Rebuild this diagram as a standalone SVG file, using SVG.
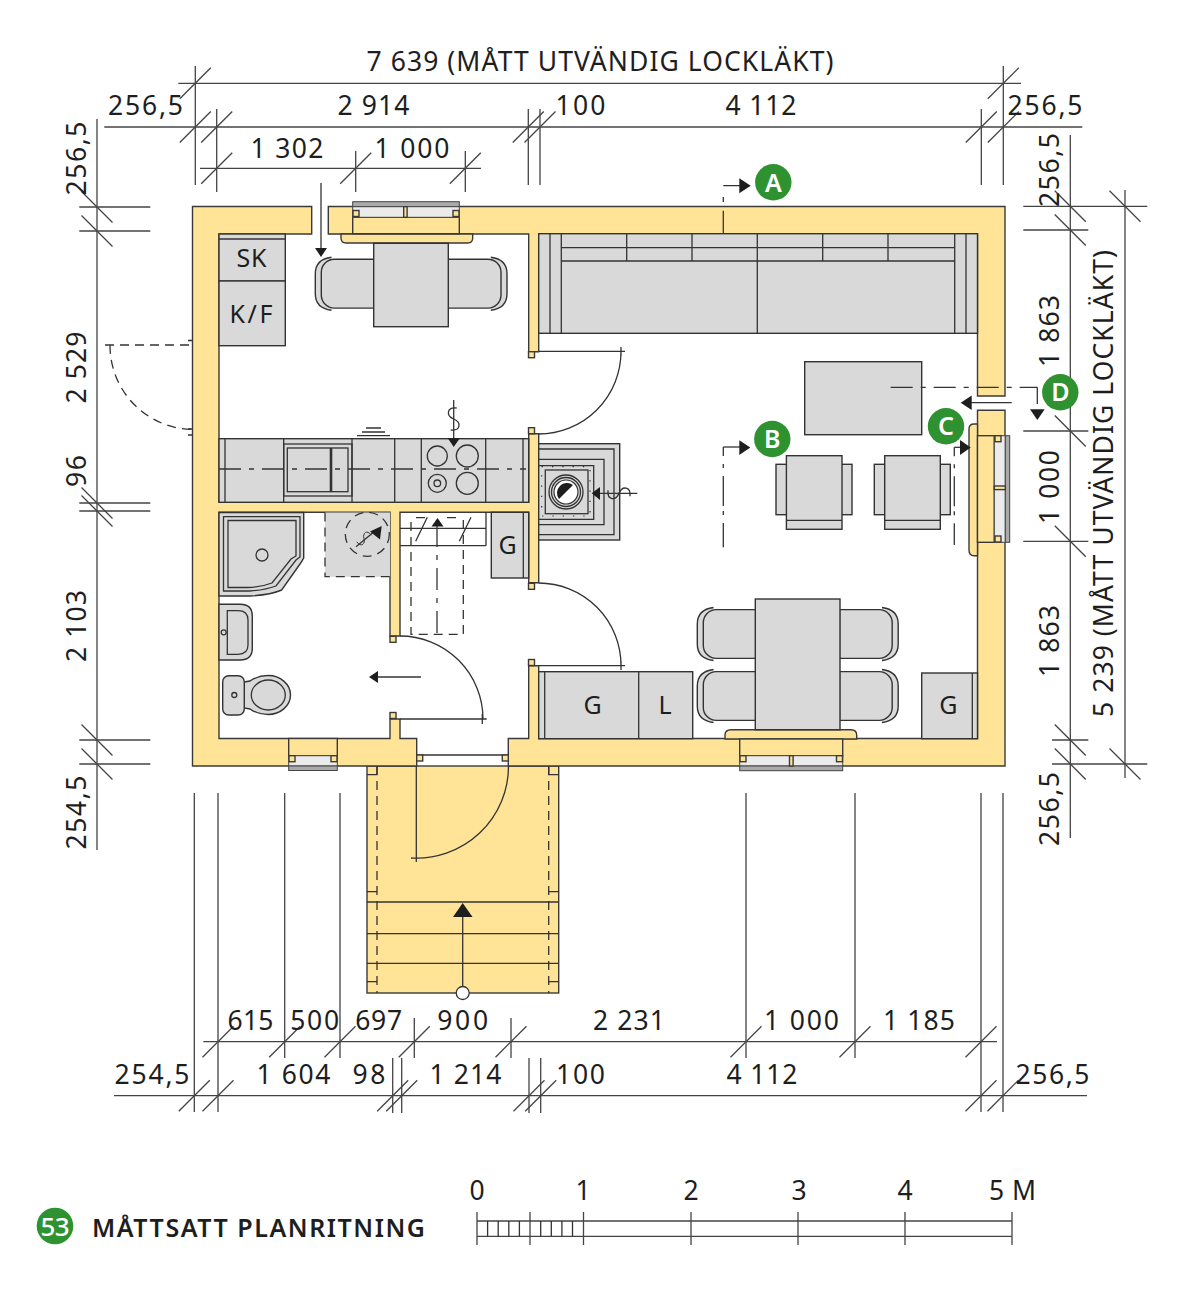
<svg xmlns="http://www.w3.org/2000/svg" xmlns:xlink="http://www.w3.org/1999/xlink" width="1200" height="1306" viewBox="0 0 1200 1306">
<style>
text{font-family:"Noto Sans","Open Sans",sans-serif;font-size:26.5px;fill:#1e1e1e;text-anchor:middle}
.w{fill:#ffe397;stroke:#3a3a3a;stroke-width:1.4;stroke-linejoin:miter}
.f{fill:#d9d9d9;stroke:#333;stroke-width:1.4}
.l{fill:none;stroke:#333;stroke-width:1.3}
.dim{fill:none;stroke:#444;stroke-width:1.3}
.dash{fill:none;stroke:#333;stroke-width:1.3;stroke-dasharray:9 6}
.dd{fill:none;stroke:#333;stroke-width:1.3;stroke-dasharray:22 8 5 8}
.sec{fill:none;stroke:#333;stroke-width:1.3;stroke-dasharray:9 8 4 8 30 5 4 8 26}
.g{fill:#ebebeb;stroke:#444;stroke-width:1}
.fr{fill:#aaa;stroke:#444;stroke-width:1}
.a{fill:#1e1e1e;stroke:none}
.c{fill:#2e9230}
.cl{fill:#fff;font-size:25px;font-weight:600}
.lab{font-size:25px}
</style>
<defs>
<path id="t" d="M-15.5 15.5L15.5-15.5" class="dim"/>
<path id="b" d="M-15.5-15.5L15.5 15.5" class="dim"/>
<path id="curl" d="M3-11C-7.5-12-7.5-3 0 0C7.5 3 7.5 12-3 11" class="l"/>
<rect id="sq" x="-3" y="-3" width="6" height="6" class="w"/>
<g id="chair">
<path class="f" d="M-42.5-26.5Q-58.7-24.5-58.7-10V10Q-58.7 24.5-42.5 26.5"/>
<path class="f" d="M0-24.4H-39.7A13 13 0 0 0-52.7-11.4V11.4A13 13 0 0 0-39.7 24.4H0Z"/>
</g>
<g id="arm">
<rect class="f" x="0" y="8.6" width="76" height="50.4"/>
<rect class="f" x="10.4" y="0" width="55.6" height="73.6"/>
<path class="l" d="M10.4 64.6H66"/>
</g>
</defs>

<g id="dimensions">
<path class="dim" d="M178.3 83.3H1021M104.3 127H1082.3M200 168.3H481M195.3 66V185M216.7 109V192M355.7 151V192M465.3 151V192M528.3 109V185M540 109V185M981.3 109V185M1003.3 66V185"/>
<path class="dim" d="M97 119V850M79.3 207H150.3M79.3 231H150.3M79.3 503H150.3M79.3 511H150.3M79.3 740H150.3M79.3 764H150.3"/>
<path class="dim" d="M1070.3 135V838M1125 190V778M1023.3 206.3H1147.3M1023.3 230H1088.3M1023.3 431H1088.3M1023.3 541.3H1088.3M1052 740H1088.3M1052 764H1147.3"/>
<path class="dim" d="M203.3 1041.7H997M114 1095.7H1087M194.3 793V1112M218 793V1112M284.7 793V1058M340 793V1058M746 793V1058M855 793V1058M981 793V1112M1003 793V1112M392.7 1058V1113M401.7 1058V1113M414.3 1018V1058M511 1018V1058M529 1058V1113M540.7 1058V1113"/>
<use href="#t" x="195.3" y="83.3"/><use href="#t" x="1003.3" y="83.3"/>
<use href="#t" x="195.3" y="127"/><use href="#t" x="216.7" y="127"/><use href="#t" x="528.3" y="127"/><use href="#t" x="540" y="127"/><use href="#t" x="981.3" y="127"/><use href="#t" x="1003.3" y="127"/>
<use href="#t" x="216.7" y="168.3"/><use href="#t" x="355.7" y="168.3"/><use href="#t" x="465.3" y="168.3"/>
<use href="#b" x="97" y="207"/><use href="#b" x="97" y="231"/><use href="#b" x="97" y="503"/><use href="#b" x="97" y="511"/><use href="#b" x="97" y="740"/><use href="#b" x="97" y="764"/>
<use href="#b" x="1070.3" y="206.3"/><use href="#b" x="1070.3" y="230"/><use href="#b" x="1070.3" y="431"/><use href="#b" x="1070.3" y="541.3"/><use href="#b" x="1070.3" y="740"/><use href="#b" x="1070.3" y="764"/><use href="#b" x="1125" y="206.3"/><use href="#b" x="1125" y="764"/>
<use href="#t" x="218" y="1041.7"/><use href="#t" x="284.7" y="1041.7"/><use href="#t" x="340" y="1041.7"/><use href="#t" x="414.3" y="1041.7"/><use href="#t" x="511" y="1041.7"/><use href="#t" x="746" y="1041.7"/><use href="#t" x="855" y="1041.7"/><use href="#t" x="981" y="1041.7"/>
<use href="#t" x="194.3" y="1095.7"/><use href="#t" x="218" y="1095.7"/><use href="#t" x="392.7" y="1095.7"/><use href="#t" x="401.7" y="1095.7"/><use href="#t" x="529" y="1095.7"/><use href="#t" x="540.7" y="1095.7"/><use href="#t" x="981" y="1095.7"/><use href="#t" x="1003" y="1095.7"/>
</g>

<g id="dimension-labels">
<text x="600" y="71" textLength="467">7 639 (MÅTT UTVÄNDIG LOCKLÄKT)</text>
<text x="145.5" y="115.2" textLength="75">256,5</text>
<text x="373.5" y="115.2" textLength="72">2 914</text>
<text x="580.5" y="115.2" textLength="50">100</text>
<text x="761" y="115.2" textLength="71">4 112</text>
<text x="1045" y="115.2" textLength="75">256,5</text>
<text x="287" y="157.5" textLength="73">1 302</text>
<text x="412" y="157.5" textLength="75">1 000</text>
<text transform="rotate(-90 85.7 158.5)" x="85.7" y="158.5" textLength="74">256,5</text>
<text transform="rotate(-90 85.7 367.5)" x="85.7" y="367.5" textLength="72">2 529</text>
<text transform="rotate(-90 85.7 471)" x="85.7" y="471" textLength="32">96</text>
<text transform="rotate(-90 85.7 626)" x="85.7" y="626" textLength="72">2 103</text>
<text transform="rotate(-90 85.7 812.5)" x="85.7" y="812.5" textLength="74">254,5</text>
<text transform="rotate(-90 1059.3 170)" x="1059.3" y="170" textLength="74">256,5</text>
<text transform="rotate(-90 1059.3 331)" x="1059.3" y="331" textLength="72">1 863</text>
<text transform="rotate(-90 1059.3 487)" x="1059.3" y="487" textLength="74">1 000</text>
<text transform="rotate(-90 1059.3 641)" x="1059.3" y="641" textLength="72">1 863</text>
<text transform="rotate(-90 1059.3 809)" x="1059.3" y="809" textLength="74">256,5</text>
<text transform="rotate(-90 1113.3 483.5)" x="1113.3" y="483.5" textLength="467">5 239 (MÅTT UTVÄNDIG LOCKLÄKT)</text>
<text x="250.5" y="1030.4" textLength="46">615</text>
<text x="314.7" y="1030.4" textLength="49">500</text>
<text x="378.7" y="1030.4" textLength="47">697</text>
<text x="462.7" y="1030.4" textLength="51">900</text>
<text x="629" y="1030.4" textLength="72">2 231</text>
<text x="801.5" y="1030.4" textLength="75">1 000</text>
<text x="919" y="1030.4" textLength="72">1 185</text>
<text x="152" y="1083.8" textLength="75">254,5</text>
<text x="293.5" y="1083.8" textLength="74">1 604</text>
<text x="369" y="1083.8" textLength="33">98</text>
<text x="465.5" y="1083.8" textLength="72">1 214</text>
<text x="580.5" y="1083.8" textLength="49">100</text>
<text x="762" y="1083.8" textLength="71">4 112</text>
<text x="1052.5" y="1083.8" textLength="74">256,5</text>
</g>

<g id="porch">
<rect class="w" x="367" y="766" width="191.7" height="227"/>
<path class="l" d="M367 902H558.7M367 933.7H558.7M367 963.3H558.7M367 774.7H377V766M558.7 774.7H548.7V766M367 891.7H377M558.7 891.7H548.7M367 981.7H377M558.7 981.7H548.7"/>
<path class="dash" d="M377 766V993M548.7 766V993"/>
<path class="l" d="M416.3 766V862M508.5 766A92 92 0 0 1 411 858"/>
<path class="l" d="M462.7 986.5V915"/>
<polygon class="a" points="462.7,903 472.5,917 453,917"/>
<circle cx="462.7" cy="993" r="6.5" fill="#fff" stroke="#333" stroke-width="1.3"/>
</g>

<g id="walls">
<path class="w" d="M192.5 206.5H311.7V234H219V502.3H528.7V433.7H538.7V582.7H528.7V512.3H400V636H390V512.3H219V738.5H390V719H400V738.5H416.7V766H192.5Z"/>
<path class="w" d="M328.3 206.5H1005V396H977.5V234H538.7V351.7H528.7V234H328.3Z"/>
<path class="w" d="M977.5 410.3H1005V766H508.3V738.5H528.7V665.7H538.7V738.5H977.5Z"/>
<path class="l" d="M416.7 755H508.3"/>
<use href="#sq" x="531.5" y="354.7"/><use href="#sq" x="531.5" y="430.7"/><use href="#sq" x="531.5" y="586.3"/><use href="#sq" x="531.5" y="662.5"/><use href="#sq" x="393" y="639.3"/><use href="#sq" x="393" y="715.5"/><use href="#sq" x="419.7" y="758"/><use href="#sq" x="505.3" y="758"/>
</g>

<g id="window-top">
<path class="w" d="M341 234H472.7V238Q472.7 243 467.7 243H346Q341 243 341 238Z"/>
<rect class="w" x="352.7" y="217.3" width="106.6" height="16.4"/>
<rect class="fr" x="352.7" y="201.7" width="106.6" height="5"/>
<rect class="g" x="352.7" y="206.7" width="106.6" height="10.6"/>
<rect class="w" x="403.7" y="206.7" width="3.4" height="10.6"/>
<use href="#sq" x="356" y="213.5"/><use href="#sq" x="456" y="213.5"/>
</g>
<g id="window-bottom">
<path class="w" d="M725 739V735Q725 729.7 731 729.7H851Q856.7 729.7 856.7 735V739Z"/>
<rect class="w" x="739.7" y="739" width="103" height="16.7"/>
<rect class="g" x="739.7" y="755.7" width="103" height="10.3"/>
<rect class="fr" x="739.7" y="766" width="103" height="4.7"/>
<rect class="w" x="789.5" y="755.7" width="3.6" height="10.3"/>
<use href="#sq" x="743" y="758.7"/><use href="#sq" x="839.5" y="758.7"/>
</g>
<g id="window-bath">
<rect class="w" x="288.7" y="738.5" width="48.6" height="17.2"/>
<rect class="g" x="288.7" y="755.7" width="48.6" height="10.3"/>
<rect class="fr" x="288.7" y="766" width="48.6" height="4.5"/>
<use href="#sq" x="292" y="758.7"/><use href="#sq" x="334" y="758.7"/>
</g>
<g id="window-right">
<path class="w" d="M977.5 424H974Q969 424 969 429V550Q969 555.7 974 555.7H977.5Z"/>
<rect class="w" x="977.5" y="435.7" width="16.8" height="106.6"/>
<rect class="g" x="994.3" y="435.7" width="11" height="106.6"/>
<rect class="fr" x="1005.3" y="435.7" width="4.4" height="106.6"/>
<rect class="w" x="994.3" y="486" width="11" height="3.6"/>
<use href="#sq" x="998" y="438.7"/><use href="#sq" x="998" y="539"/>
</g>

<g id="storage-sk-kf">
<rect class="f" x="219" y="234" width="66.3" height="47"/>
<rect class="f" x="219" y="281" width="66.3" height="64.7"/>
<path class="l" d="M219 239H285.3"/>
<text class="lab" x="251.5" y="266.5" textLength="30">SK</text>
<text class="lab" x="251" y="323" textLength="43">K/F</text>
</g>

<g id="table-kitchen">
<use href="#chair" transform="translate(374 283.7)"/>
<use href="#chair" transform="translate(448.3 283.7) scale(-1 1)"/>
<rect class="f" x="373.7" y="243.3" width="74.6" height="83.4"/>
</g>

<g id="kitchen-counter">
<rect class="f" x="219" y="438.7" width="309.7" height="63.6"/>
<path class="l" d="M225 438.7V502.3M283.7 438.7V502.3M352 438.7V502.3M394.7 438.7V502.3M421.3 438.7V502.3M485.7 438.7V502.3M523 438.7V502.3"/>
<rect class="l" x="283.7" y="444" width="68.3" height="52"/>
<rect class="l" x="287.3" y="448" width="60.7" height="43.7"/>
<path d="M331 448V491.7" fill="none" stroke="#333" stroke-width="2.6"/>
<path class="dd" d="M219 469H526"/>
<circle class="l" cx="437.3" cy="456" r="10"/><circle class="l" cx="467.3" cy="456" r="11"/><circle class="l" cx="437.3" cy="483.3" r="9"/><circle class="l" cx="437.3" cy="483.3" r="3.3"/><circle class="l" cx="467.3" cy="483.3" r="11"/>
<path class="l" d="M357 435.7H390M362 432H385M366 428H381"/>
</g>

<g id="sofa">
<rect class="f" x="538.7" y="233.7" width="438.8" height="99.6"/>
<path class="l" d="M550 233.7V333.3M561.3 233.7V333.3M954.7 233.7V333.3M966 233.7V333.3M561.3 247.7H954.7M561.3 261H954.7M626.7 233.7V261M692 233.7V261M757.3 233.7V333.3M822.7 233.7V261M888 233.7V261"/>
</g>

<g id="hearth">
<rect class="f" x="538.7" y="443.7" width="81" height="96.3"/>
<path class="l" d="M538.7 449H614V534.7H538.7M538.7 459.3H604V524.7H538.7M538.7 465.7H593.7V519.3H538.7"/>
<rect x="541.7" y="466.7" width="48.3" height="49.3" fill="none" stroke="#333" stroke-width="1.2" stroke-dasharray="1.3 9"/>
<rect class="l" x="545.3" y="470" width="42.7" height="43.7"/>
<circle class="l" cx="566" cy="492" r="17"/><circle class="l" cx="566" cy="492" r="14.5"/><circle cx="566" cy="492" r="12" fill="#fff" stroke="#333" stroke-width="1.2"/>
<path class="a" d="M559 499A10 10 0 0 1 573 485Z"/>
</g>

<g id="shower">
<path class="f" d="M219 512.5H303.7V558L300 564L281.7 590Q270 595 250 596H219Z"/>
<path class="l" d="M223.5 516.7H300V557L296 560L276 586Q265 590 250 591H223.5Z"/>
<path class="l" d="M228 520.5H296V556L291 559L272 583Q262 587 248 587.5H228Z"/>
<circle class="l" cx="262" cy="555" r="6"/>
</g>
<g id="basin">
<path class="f" d="M219 604.3H240Q252.3 604.3 252.3 616V648Q252.3 660 240 660H219Z"/>
<path class="l" d="M227.3 610.7H238Q248 610.7 248 620V645Q248 654.3 238 654.3H227.3Z"/>
<circle class="l" cx="223.7" cy="632.3" r="2.5"/>
</g>
<g id="toilet">
<path class="f" d="M244 682L250 681Q258 675.5 268.3 675.5C280 675.5 290.5 684 290.5 695S280 714.5 268.3 714.5Q258 714.5 250 709L244 708Z"/>
<ellipse class="l" cx="268.3" cy="695" rx="17" ry="15"/>
<rect class="f" x="222.7" y="675.7" width="21.6" height="39.3" rx="6"/>
<circle class="l" cx="234.3" cy="695" r="2.5"/>
</g>
<g id="stove-bath">
<path d="M325 512.5H390V576.7H325Z" fill="#d9d9d9"/>
<path class="dash" d="M325 512.5V576.7H390"/>
<circle class="dash" cx="367.3" cy="534.3" r="22"/>
</g>
<g id="stairs">
<path class="l" d="M400 528.3H486M400 545.7H486M486 512.3V545.7"/>
<path class="dash" d="M411 522V634.3H463.3V520M416 517.7H428M447 517.7H460"/>
<path class="dd" d="M437 525V634"/>
<path class="l" d="M415.7 541.3L427.3 517.3M459.3 541.3L471 517.3"/>
<polygon class="a" points="437.5,518 443.5,526.5 431.5,526.5"/>
</g>
<g id="cabinet-g1">
<rect class="f" x="491.3" y="512.3" width="37.4" height="65.7"/>
<path class="l" d="M523.3 512.3V578"/>
<text class="lab" x="507.7" y="554.3">G</text>
</g>
<g id="cabinet-g-l">
<rect class="f" x="538.7" y="671.7" width="154" height="67"/>
<path class="l" d="M544.7 671.7V738.7M638.7 671.7V738.7"/>
<text class="lab" x="592.7" y="714">G</text>
<text class="lab" x="665" y="714">L</text>
</g>
<g id="cabinet-g2">
<rect class="f" x="921.7" y="673" width="55.8" height="65.7"/>
<path class="l" d="M972.3 673V738.7"/>
<text class="lab" x="948.3" y="714">G</text>
</g>
<g id="coffee-table"><rect class="f" x="804.7" y="361.7" width="117" height="73"/></g>
<g id="armchair-1"><use href="#arm" transform="translate(776 455.7)"/></g>
<g id="armchair-2"><use href="#arm" transform="translate(874.3 455.7)"/></g>
<g id="table-dining">
<use href="#chair" transform="translate(756 634)"/>
<use href="#chair" transform="translate(756 696)"/>
<use href="#chair" transform="translate(839.5 634) scale(-1 1)"/>
<use href="#chair" transform="translate(839.5 696) scale(-1 1)"/>
<rect class="f" x="755.3" y="599" width="84.7" height="130.7"/>
</g>

<g id="connectors">
<path class="l" d="M400 719H486.7M482.3 714V724M400 636A83 83 0 0 1 483 719"/>
<path class="l" d="M538.7 351.3H625M621 347V356M621 351.3A82.5 82.5 0 0 1 538.7 434"/>
<path class="l" d="M538.7 665.7H625M621 661V670M538.7 583A82.5 82.5 0 0 1 621 665.7"/>
<path class="dash" d="M105 345H192M110 345A84 84 0 0 0 192 429.5"/>
<path class="l" d="M188 340.5H192M188 429H192M188 435H192"/>
<path class="l" d="M321 183V250"/><polygon class="a" points="321,257 315,248 327,248"/>
<path class="l" d="M453.7 400V438"/><polygon class="a" points="453.7,447 447.7,438 460,438"/>
<use href="#curl" x="453.7" y="419"/>
<path class="l" d="M637.3 493.3H598"/><polygon class="a" points="591.7,493.3 600,487 600,500"/>
<use href="#curl" transform="translate(619 493.3) rotate(90)"/>
<path class="l" d="M356 546.7L375 531"/><polygon class="a" points="381.7,526 380,539.5 370,531.5"/>
<use href="#curl" transform="translate(364 538.5) rotate(50) scale(.7)"/>
<path class="l" d="M421 677H376"/><polygon class="a" points="369,677 378,671 378,683"/>
<g id="section-a">
<path class="l" d="M723.3 210.7V233M723.3 197V202M723.3 185.7H740"/><polygon class="a" points="750.7,185.7 739.3,178.3 739.3,193.3"/>
</g>
<g id="section-b">
<path class="l" d="M723.3 447H740"/><path class="sec" d="M723.3 447V547.3"/><polygon class="a" points="750.3,447.5 739.3,440.3 739.3,455"/>
</g>
<g id="section-c">
<path class="l" d="M954.3 447.3H960"/><path class="sec" d="M954.3 447.3V545"/><polygon class="a" points="970.7,447.5 960,440 960,455"/>
</g>
<g id="section-d">
<path class="dd" d="M890.7 387.3H1037.3"/><path class="l" d="M1037.3 387.3V404"/><polygon class="a" points="1037.3,420 1030,409.3 1044.7,409.3"/>
</g>
<path class="l" d="M1011.7 402.7H970"/><polygon class="a" points="960.7,402.7 971.7,395.5 971.7,410"/>
</g>

<g id="marker-a"><circle class="c" cx="773.3" cy="182.3" r="18.2"/><text class="cl" x="773.3" y="191.5">A</text></g>
<g id="marker-b"><circle class="c" cx="772.3" cy="439" r="18.2"/><text class="cl" x="772.3" y="448">B</text></g>
<g id="marker-c"><circle class="c" cx="946" cy="426.3" r="18.2"/><text class="cl" x="946" y="435.3">C</text></g>
<g id="marker-d"><circle class="c" cx="1060.3" cy="392.3" r="18.2"/><text class="cl" x="1060.3" y="401.3">D</text></g>

<g id="scale-bar">
<path class="dim" d="M477 1221H1012M477 1236.3H1012M477 1212V1245M530 1212V1245M583.5 1212V1245M691 1212V1245M798 1212V1245M905 1212V1245M1012 1212V1245"/>
<path class="l" stroke-width="1" d="M487.6 1221V1236M498.2 1221V1236M508.8 1221V1236M519.4 1221V1236M540.7 1221V1236M551.3 1221V1236M561.9 1221V1236M572.5 1221V1236"/>
<text x="477" y="1200">0</text>
<text x="583" y="1200">1</text>
<text x="691" y="1200">2</text>
<text x="799" y="1200">3</text>
<text x="905" y="1200">4</text>
<text x="1012.5" y="1200" textLength="47">5 M</text>
</g>
<g id="caption">
<circle class="c" cx="55" cy="1226" r="18.3"/>
<text x="55" y="1235.5" style="fill:#fff;font-size:26px;font-weight:500" textLength="29">53</text>
<text x="258.5" y="1237.3" style="font-size:25px;font-weight:600" textLength="333">MÅTTSATT PLANRITNING</text>
</g>
</svg>
